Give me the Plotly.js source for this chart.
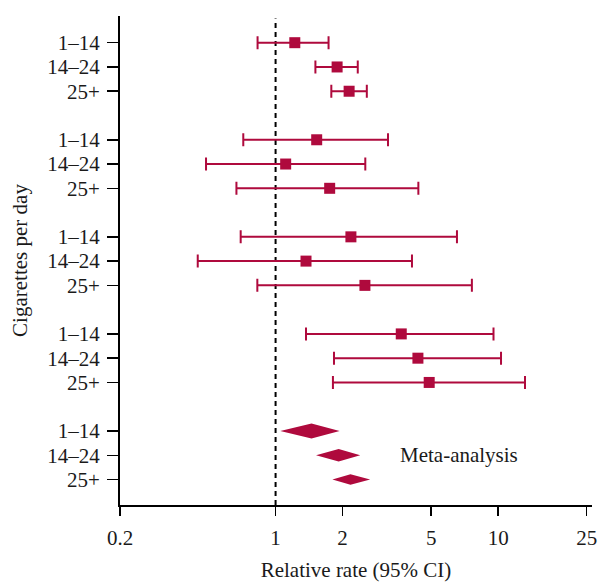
<!DOCTYPE html>
<html>
<head>
<meta charset="utf-8">
<script src="https://cdn.plot.ly/plotly-3.0.1.min.js"></script>
<style>html,body{margin:0;padding:0;background:#fff;}#chart{width:603px;height:582px;}</style>
</head>
<body>
<div id="chart"></div>
<script>
// Dose categories (cigarettes per day)
var doseLabels = ["1–14", "14–24", "25+"];
// Study groups (four studies) — relative rate estimates and 95% CI
var studyEst = [1.22, 1.89, 2.14, 1.53, 1.11, 1.75, 2.18, 1.37, 2.52, 3.67, 4.36, 4.90];
var studyLo  = [0.83, 1.51, 1.78, 0.716, 0.487, 0.667, 0.697, 0.447, 0.828, 1.37, 1.83, 1.81];
var studyHi  = [1.73, 2.34, 2.57, 3.20, 2.53, 4.38, 6.53, 4.10, 7.62, 9.53, 10.3, 13.2];
// Meta-analysis pooled estimates
var metaEst = [1.45, 1.92, 2.17];
var metaLo  = [1.05, 1.52, 1.80];
var metaHi  = [1.94, 2.40, 2.66];
// x-axis ticks
var xTickVals = [0.2, 1, 2, 5, 10, 25];
var xTickText = ["0.2", "1", "2", "5", "10", "25"];

var color = "#AF0A3D";
var nGroups = 4;

// row positions: each group of 3 rows followed by a blank row
var studyY = [];
for (var g = 0; g < nGroups; g++) for (var d = 0; d < 3; d++) studyY.push(g * 4 + d);
var metaY = [16, 17, 18];

var tickVals = [], tickText = [];
studyY.concat(metaY).forEach(function (y, i) { tickVals.push(y); tickText.push(doseLabels[i % 3]); });

var studyTrace = {
  type: "scatter", mode: "markers",
  x: studyEst, y: studyY,
  marker: { symbol: "square", size: 11, color: color },
  error_x: {
    type: "data", symmetric: false,
    array: studyHi.map(function (h, i) { return h - studyEst[i]; }),
    arrayminus: studyLo.map(function (l, i) { return studyEst[i] - l; }),
    color: color, thickness: 2, width: 6.5
  },
  hoverinfo: "x+y", showlegend: false
};

// diamonds for meta-analysis, half-heights (in row units) shrink with row
var halfH = [0.31, 0.255, 0.215];
var dx = [], dy = [];
metaEst.forEach(function (e, i) {
  var y = metaY[i];
  dx.push(metaLo[i], e, metaHi[i], e, metaLo[i], null);
  dy.push(y, y - halfH[i], y, y + halfH[i], y, null);
});
var metaTrace = {
  type: "scatter", mode: "lines", x: dx, y: dy,
  fill: "toself", fillcolor: color, line: { width: 0, color: color },
  connectgaps: false, hoverinfo: "skip", showlegend: false
};

var font = { family: "Liberation Serif, Times New Roman, serif", size: 21, color: "#1a1a1a" };

var layout = {
  width: 603, height: 582,
  margin: { l: 120, r: 11, t: 16, b: 77 },
  paper_bgcolor: "#fff", plot_bgcolor: "#fff",
  font: font,
  showlegend: false,
  xaxis: {
    type: "log",
    range: [Math.log10(0.2), Math.log10(26.4)],
    tickvals: xTickVals, ticktext: xTickText,
    ticks: "outside", ticklen: 9, tickwidth: 1.5, tickcolor: "#000",
    showline: true, linecolor: "#000", linewidth: 2,
    showgrid: false, zeroline: false,
    ticklabelstandoff: 4,
    tickfont: font,
    title: { text: "Relative rate (95% CI)", font: font, standoff: 14 }
  },
  yaxis: {
    range: [19.05, -1.1],
    tickvals: tickVals, ticktext: tickText,
    ticks: "outside", ticklen: 11, tickwidth: 1.5, tickcolor: "#000",
    showline: true, linecolor: "#000", linewidth: 2,
    showgrid: false, zeroline: false,
    ticklabelstandoff: 3,
    tickfont: font,
    title: { text: "Cigarettes per day", font: font, standoff: 14 }
  },
  shapes: [{
    type: "line", xref: "x", yref: "paper", x0: 1, x1: 1, y0: 0, y1: 0.995,
    line: { color: "#000", width: 2, dash: "5px,4px" }, layer: "below"
  }],
  annotations: [{
    text: "Meta-analysis", xref: "x", yref: "y", x: Math.log10(6.7), y: 17,
    showarrow: false, font: font, xanchor: "center", yanchor: "middle"
  }]
};

Plotly.newPlot("chart", [studyTrace, metaTrace], layout, { displayModeBar: false, staticPlot: true });
</script>
</body>
</html>
